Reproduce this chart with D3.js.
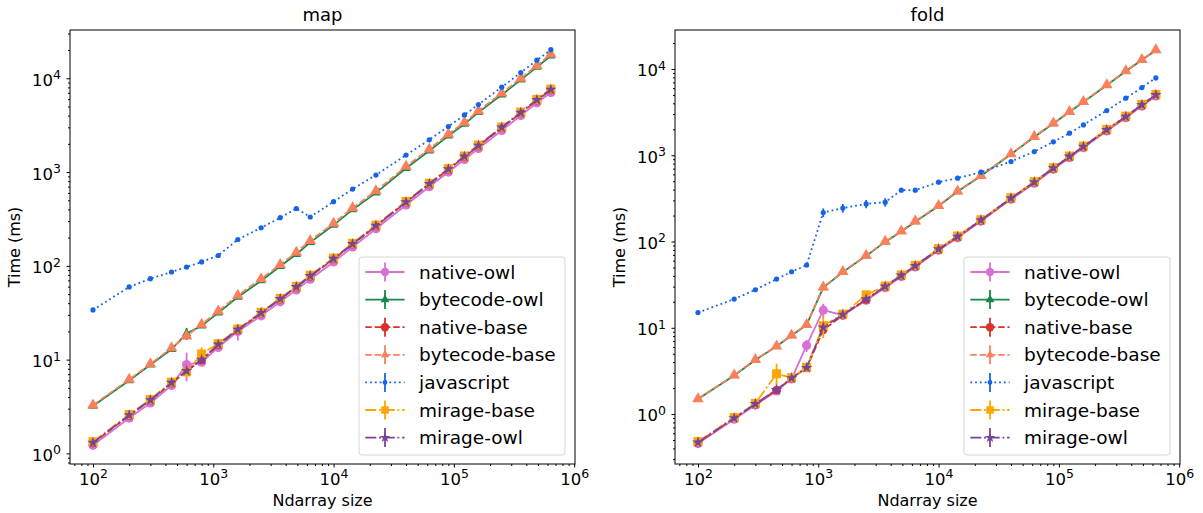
<!DOCTYPE html>
<html>
<head>
<meta charset="utf-8">
<script src="https://d3js.org/d3.v7.min.js"></script>
<style>
  body { margin: 0; background: #fff; }
  text { font-family: "DejaVu Sans", sans-serif; fill: #000; }
</style>
</head>
<body>
<div id="chart"></div>
<script>
// ndarray sizes (x values, shared by both panels)
var sizes = [100, 200, 300, 450, 600, 800, 1100, 1600, 2500, 3600, 4900, 6400,
             10000, 14400, 22500, 40000, 62500, 90000, 122500, 160000, 250000, 360000, 490000, 640000];

var seriesNames = ["native-owl", "bytecode-owl", "native-base", "bytecode-base", "javascript", "mirage-base", "mirage-owl"];

// map timings (ms)
var mapNativeOwl    = [1.22, 2.38, 3.45, 5.3, 8.87, 9.4, 13.5, 20.0, 29.3, 41.3, 55.4, 72, 110, 159, 249, 446, 698, 1000, 1363, 1785, 2780, 4010, 5480, 7050];
var mapBytecodeOwl  = [3.2, 6.0, 8.8, 12.9, 19.0, 23.0, 31.5, 46.5, 69.5, 99, 133, 178, 272, 398, 600, 1100, 1690, 2440, 3250, 4330, 6680, 9620, 13150, 17400];
var mapNativeBase   = [1.29, 2.54, 3.68, 5.6, 7.5, 9.9, 14.3, 20.6, 31.2, 44, 59, 77, 118, 170, 265, 475, 742, 1065, 1450, 1900, 2960, 4270, 5830, 7500];
var mapBytecodeBase = [3.27, 6.14, 9.0, 13.3, 17.8, 23.8, 32.8, 48.5, 72.5, 103, 139, 186, 284, 414, 628, 1148, 1758, 2541, 3377, 4496, 6936, 10000, 13650, 18070];
var mapJavascript   = [33.9, 59.6, 73, 86, 97, 110, 129, 191, 255, 326, 409, 332, 483, 659, 929, 1517, 2208, 3062, 4070, 5250, 8040, 11500, 15600, 20200];
var mapMirageBase   = [1.33, 2.6, 3.76, 5.75, 7.4, 11.5, 14.8, 21.2, 32, 45, 60.5, 79.5, 121, 174, 272, 486, 760, 1090, 1485, 1945, 3025, 4370, 5960, 7680];
var mapMirageOwl    = [1.30, 2.56, 3.7, 5.67, 7.6, 10, 14.5, 20.9, 31.5, 44.4, 59.6, 78, 119, 171, 268, 479, 750, 1076, 1466, 1919, 2987, 4313, 5890, 7585];

// fold timings (ms)
var foldNativeOwl    = [0.455, 0.87, 1.27, 1.85, 2.55, 6.24, 16.0, 14.0, 20.8, 29.2, 39.2, 50.7, 79.2, 110.5, 172, 309, 474, 688, 938, 1224, 1910, 2723, 3721, 4862];
var foldBytecodeOwl  = [1.49, 2.80, 4.22, 6.10, 8.15, 10.8, 29.3, 44.2, 68.2, 99, 131, 170, 258, 380, 576, 1028, 1632, 2330, 3175, 4150, 6480, 9420, 12730, 16480];
var foldNativeBase   = [0.47, 0.90, 1.30, 1.90, 2.60, 3.42, 9.4, 14.0, 21.2, 29.8, 40.0, 51.8, 80.8, 113, 175, 315, 483, 702, 958, 1250, 1950, 2780, 3800, 4965];
var foldBytecodeBase = [1.50, 2.83, 4.26, 6.14, 8.23, 10.9, 29.6, 44.6, 68.8, 100, 132, 172, 261, 384, 582, 1038, 1648, 2354, 3206, 4188, 6540, 9510, 12850, 16630];
var foldJavascript   = [15.0, 21.5, 27.6, 36.7, 44.6, 53.3, 217, 244, 273, 286, 394, 394, 488, 543, 637, 845, 1104, 1430, 1802, 2250, 3296, 4590, 6093, 7885];
var foldMirageBase   = [0.48, 0.91, 1.33, 2.93, 2.64, 3.48, 10.6, 14.4, 24.1, 30.5, 41.0, 53.0, 82.6, 116, 179, 322, 494, 718, 980, 1278, 1992, 2842, 3885, 5075];
var foldMirageOwl    = [0.469, 0.898, 1.31, 1.91, 2.61, 3.44, 10.1, 14.2, 21.5, 30.1, 40.4, 52.3, 81.6, 114, 177, 318, 488, 709, 967, 1262, 1968, 2807, 3836, 5012];

// visible error bars: [series, size, +/- ms]
var mapErrors = [["native-owl", 600, 3], ["native-owl", 1600, 4], ["bytecode-owl", 600, 2.8], ["mirage-base", 800, 2]];
var foldErrors = [["native-owl", 800, 1.0], ["native-owl", 1100, 3], ["mirage-base", 450, 0.9],
                  ["mirage-base", 1100, 3], ["mirage-base", 2500, 3],
                  ["javascript", 1100, 25], ["javascript", 1600, 28], ["javascript", 2500, 30], ["javascript", 3600, 32]];

// styles
var styles = {
  "native-owl":    {color: "#da70d6", dash: null,            marker: "circle",   size: 4.6, lsize: 4.2},
  "bytecode-owl":  {color: "#15884a", dash: null,            marker: "triangle", size: 38,  lsize: 34},
  "native-base":   {color: "#d9302a", dash: "6.5,2.8",       marker: "circle",   size: 4.2, lsize: 4.2},
  "bytecode-base": {color: "#f9805a", dash: "6.5,2.8",       marker: "triangle", size: 58,  lsize: 30},
  "javascript":    {color: "#1763e6", dash: "1.8,3",         marker: "dot",      size: 2.6, lsize: 2.4},
  "mirage-base":   {color: "#ffa500", dash: "11,2.8,1.8,2.8", marker: "square",  size: 9,   lsize: 7.5},
  "mirage-owl":    {color: "#774499", dash: "11,2.8,1.8,2.8", marker: "star",    size: 42,  lsize: 34}
};

var W = 1203, H = 513;
var svg = d3.select("#chart").append("svg").attr("width", W).attr("height", H);

function drawMarker(g, st, cx, cy, s) {
  if (st.marker === "circle" || st.marker === "dot") {
    g.append("circle").attr("cx", cx).attr("cy", cy).attr("r", s).attr("fill", st.color);
  } else if (st.marker === "square") {
    g.append("rect").attr("x", cx - s / 2).attr("y", cy - s / 2).attr("width", s).attr("height", s).attr("fill", st.color);
  } else {
    var type = st.marker === "triangle" ? d3.symbolTriangle : d3.symbolStar;
    g.append("path").attr("d", d3.symbol().type(type).size(s)())
      .attr("transform", "translate(" + cx + "," + cy + ")").attr("fill", st.color);
  }
}

function powLabel(sel) {
  sel.each(function(d) {
    var t = d3.select(this);
    var e = Math.round(Math.log10(d));
    t.text(null);
    t.append("tspan").text("10");
    t.append("tspan").attr("dy", -6.5).attr("font-size", 12.5).text(e);
  });
}

function panel(x0, x1, title, yLog, data, errors) {
  var top = 30, bottom = 464;
  var x = d3.scaleLog().domain([Math.pow(10, 1.809), Math.pow(10, 6.007)]).range([x0, x1]);
  var y = d3.scaleLog().domain([Math.pow(10, yLog[0]), Math.pow(10, yLog[1])]).range([bottom, top]);
  var g = svg.append("g");

  // minor / major ticks
  function minors(sc) {
    var dm = sc.domain(), out = [];
    for (var k = -2; k <= 7; k++) for (var m = 2; m <= 9; m++) {
      var v = m * Math.pow(10, k);
      if (v >= dm[0] && v <= dm[1]) out.push(v);
    }
    return out;
  }
  function majors(sc) {
    var dm = sc.domain(), out = [];
    for (var k = -2; k <= 7; k++) { var v = Math.pow(10, k); if (v >= dm[0] * 0.999 && v <= dm[1] * 1.001) out.push(v); }
    return out;
  }

  g.append("g").attr("transform", "translate(0," + bottom + ")")
    .call(d3.axisBottom(x).tickValues(minors(x)).tickSize(2).tickFormat(""));
  g.append("g").attr("transform", "translate(0," + bottom + ")")
    .call(d3.axisBottom(x).tickValues(majors(x)).tickSize(3.5).tickPadding(5.5))
    .selectAll(".tick text").attr("font-size", 16.5).call(powLabel);
  g.append("g").attr("transform", "translate(" + x0 + ",0)")
    .call(d3.axisLeft(y).tickValues(minors(y)).tickSize(2).tickFormat(""));
  g.append("g").attr("transform", "translate(" + x0 + ",0)")
    .call(d3.axisLeft(y).tickValues(majors(y)).tickSize(3.5).tickPadding(5.5))
    .selectAll(".tick text").attr("font-size", 16.5).attr("dy", "0.42em").call(powLabel);
  g.selectAll(".domain").remove();
  g.selectAll(".tick line").attr("stroke", "#000");
  g.selectAll("text").attr("font-family", "DejaVu Sans, sans-serif");

  // series
  var line = d3.line().x(function(d, i) { return x(sizes[i]); }).y(function(d) { return y(d); });
  data.forEach(function(vals, si) {
    var name = seriesNames[si], st = styles[name];
    var sg = g.append("g");
    errors.filter(function(e) { return e[0] === name; }).forEach(function(e) {
      var v = vals[sizes.indexOf(e[1])];
      sg.append("line").attr("x1", x(e[1])).attr("x2", x(e[1]))
        .attr("y1", y(v - e[2])).attr("y2", y(v + e[2]))
        .attr("stroke", st.color).attr("stroke-width", 1.8);
    });
    sg.append("path").attr("d", line(vals)).attr("fill", "none")
      .attr("stroke", st.color).attr("stroke-width", 1.8)
      .attr("stroke-dasharray", st.dash);
    vals.forEach(function(v, i) { drawMarker(sg, st, x(sizes[i]), y(v), st.size); });
  });

  // frame
  g.append("rect").attr("x", x0).attr("y", top).attr("width", x1 - x0).attr("height", bottom - top)
    .attr("fill", "none").attr("stroke", "#000").attr("stroke-width", 1);

  // title and labels
  g.append("text").attr("x", (x0 + x1) / 2).attr("y", 21).attr("text-anchor", "middle")
    .attr("font-size", 18).text(title);
  g.append("text").attr("x", (x0 + x1) / 2).attr("y", 506).attr("text-anchor", "middle")
    .attr("font-size", 16).text("Ndarray size");
  g.append("text").attr("transform", "translate(" + (x0 - 50) + "," + ((top + bottom) / 2) + ") rotate(-90)")
    .attr("text-anchor", "middle").attr("font-size", 16).text("Time (ms)");

  // legend
  var lw = 206, lh = 198;
  var lx = x1 - 10 - lw, ly = bottom - 9 - lh;
  var lg = g.append("g");
  lg.append("rect").attr("x", lx).attr("y", ly).attr("width", lw).attr("height", lh)
    .attr("rx", 3).attr("fill", "#fff").attr("fill-opacity", 0.85)
    .attr("stroke", "#d6d6d6").attr("stroke-width", 1);
  seriesNames.forEach(function(name, i) {
    var st = styles[name];
    var cy = ly + 15 + i * 27.6;
    lg.append("line").attr("x1", lx + 6.3).attr("x2", lx + 45.6).attr("y1", cy).attr("y2", cy)
      .attr("stroke", st.color).attr("stroke-width", 1.8).attr("stroke-dasharray", st.dash);
    lg.append("line").attr("x1", lx + 26).attr("x2", lx + 26).attr("y1", cy - 9.5).attr("y2", cy + 9.5)
      .attr("stroke", st.color).attr("stroke-width", 1.8);
    drawMarker(lg, st, lx + 26, cy, st.lsize);
    lg.append("text").attr("x", lx + 60).attr("y", cy + 6.5).attr("font-size", 18.5).text(name);
  });
}

panel(70, 575, "map", [-0.113, 4.515],
  [mapNativeOwl, mapBytecodeOwl, mapNativeBase, mapBytecodeBase, mapJavascript, mapMirageBase, mapMirageOwl], mapErrors);
panel(675, 1180, "fold", [-0.579, 4.452],
  [foldNativeOwl, foldBytecodeOwl, foldNativeBase, foldBytecodeBase, foldJavascript, foldMirageBase, foldMirageOwl], foldErrors);
</script>
</body>
</html>
